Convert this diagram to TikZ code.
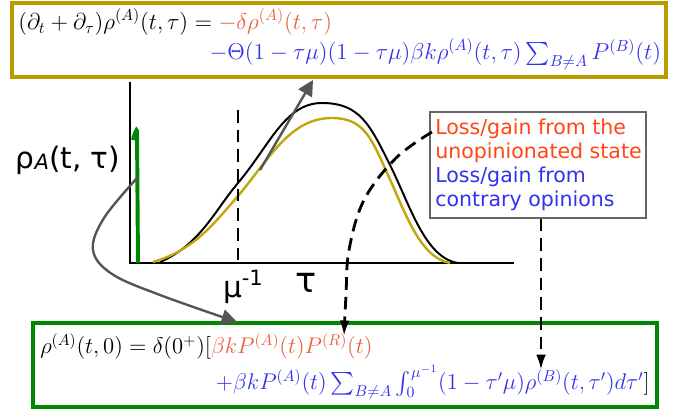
\documentclass[tikz,border=0pt]{standalone}
\usepackage{amsmath}
\usepackage{fontspec}
\newfontfamily\labelfont{DejaVu Sans}
\usetikzlibrary{arrows.meta,positioning}
\definecolor{eqred}{RGB}{235,95,60}
\definecolor{eqblue}{RGB}{50,50,235}
\definecolor{boxgold}{RGB}{185,155,0}
\definecolor{boxgreen}{RGB}{0,135,0}
\definecolor{curvegold}{RGB}{190,168,10}
\definecolor{arrowgray}{RGB}{85,85,85}
\definecolor{notered}{RGB}{255,70,20}
\tikzset{
  eqbox/.style={draw=#1, line width=2.6pt, fill=white, inner sep=0pt},
  notebox/.style={draw=gray!80!black, line width=0.8pt, fill=white, inner sep=0pt},
  axis/.style={line width=2pt, line cap=rect},
  profile/.style={line width=1.4pt},
  marker/.style={dashed, dash pattern=on 9pt off 5pt, line width=2pt},
  flowarrow/.style={-{Triangle[length=11pt,width=11pt]}, arrowgray, line width=1.7pt},
  linkarrow/.style={marker, -{Latex[length=11pt,width=7pt]}},
  axislabel/.style={font=\labelfont\fontsize{21}{24}\selectfont, inner sep=0pt}
}

\begin{document}
\begin{tikzpicture}[x=0.025cm, y=-0.025cm]
  \useasboundingbox (0,0) rectangle (679,411);

  % equation boxes
  \node[eqbox=boxgold, minimum width=16.35cm, minimum height=1.85cm] (topbox) at (339,40) {};
  \node[anchor=north west, inner sep=0pt] (topeq) at (18,8) {\scalebox{1.135}{\Large
    $\begin{aligned}
      (\partial_t+\partial_\tau)\rho^{(A)}(t,\tau) &= \textcolor{eqred}{-\delta\rho^{(A)}(t,\tau)}\\[-4pt]
      &\phantom{=}\,\textcolor{eqblue}{-\Theta(1-\tau\mu)(1-\tau\mu)\beta k\rho^{(A)}(t,\tau)\textstyle\sum_{B\neq A}P^{(B)}(t)}
    \end{aligned}$}};

  \node[eqbox=boxgreen, minimum width=15.6cm, minimum height=2.1cm] (botbox) at (345,365) {};
  \node[anchor=base west, inner sep=0pt] (boteqa) at (40,354) {\scalebox{1.12}{\Large
    $\rho^{(A)}(t,0)=\delta(0^+)[\textcolor{eqred}{\beta kP^{(A)}(t)P^{(R)}(t)}$}};
  \node[anchor=base east, inner sep=0pt] (boteqb) at (650,390) {\scalebox{1.12}{\Large
    $\textcolor{eqblue}{+\beta kP^{(A)}(t)\textstyle\sum_{B\neq A}\int_0^{\mu^{-1}}(1-\tau'\mu)\rho^{(B)}(t,\tau')d\tau'}]$}};

  % axes and profiles
  \coordinate (origin) at (130,263);
  \draw[axis] (130,83) -- (origin) -- (513,263);
  \draw[profile] (160,262) .. controls (200,245) and (215,210) .. (238,183)
    .. controls (270,145) and (285,103) .. (322,103)
    .. controls (360,103) and (370,125) .. (390,165)
    .. controls (410,205) and (425,258) .. (458,263);
  \draw[profile, curvegold, line width=1.7pt] (153,262) .. controls (195,250) and (215,222) .. (238,196)
    .. controls (270,158) and (290,118) .. (332,118)
    .. controls (365,118) and (372,140) .. (388,175)
    .. controls (405,212) and (420,258) .. (450,263);
  \draw[boxgreen, line width=2.8pt] (138,263) -- (137,131) to[out=90,in=80] (133,140);
  \draw[marker] (238,110) -- (238,262);

  \node[axislabel] (rholabel) at (68,160) {ρ\raisebox{-0.1ex}{\fontsize{15}{15}\selectfont\itshape A}(t, τ)};
  \node[axislabel] (mulabel) at (243,287) {μ\raisebox{0.7ex}{\fontsize{15}{15}\selectfont -1}};
  \node[axislabel, font=\labelfont\fontsize{25}{27}\selectfont] (taulabel) at (306,283) {τ};

  % note box
  \node[notebox, minimum width=5.4cm, minimum height=2.65cm] (note) at (538,165) {};
  \node[anchor=north west, inner sep=0pt, align=left, font=\labelfont\fontsize{14.6}{16.9}\selectfont]
    (notetext) at (435,119) {\textcolor{notered}{Loss/gain from the}\\
      \textcolor{notered}{unopinionated state}\\
      \textcolor{eqblue}{Loss/gain from}\\
      \textcolor{eqblue}{contrary opinions}};

  % connectors
  \coordinate (spike) at (138,177);
  \coordinate (slope) at (260,170);
  \coordinate (rhoB) at (541,370);
  \coordinate (sumtarget) at (237,322);
  \coordinate (redtarget) at (344,336);
  \draw[flowarrow] (slope) -- (313,80);
  \draw[flowarrow] plot[smooth, tension=0.6] coordinates
    {(spike) (104,218) (93,250) (112,274) (160,295) (sumtarget)};
  \draw[linkarrow] plot[smooth, tension=0.6] coordinates
    {(432,132) (396,158) (364,200) (349,250) (346,295) (redtarget)};
  \draw[linkarrow] (note.south-|rhoB) -- (rhoB);
\end{tikzpicture}
\end{document}
